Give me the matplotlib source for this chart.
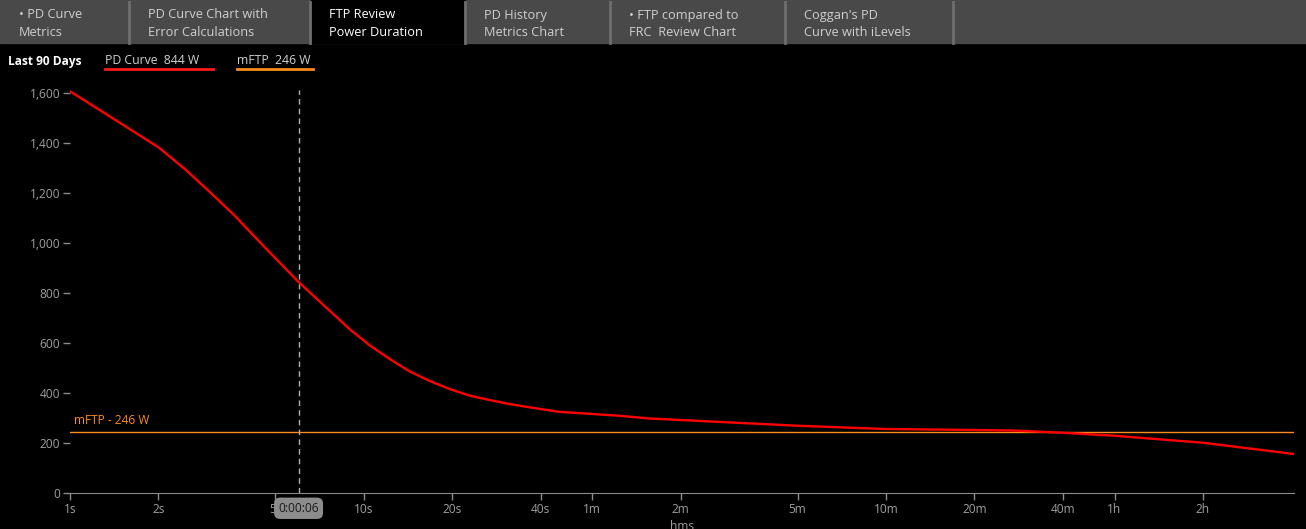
import matplotlib
matplotlib.use("Agg")
import matplotlib.pyplot as plt
from matplotlib.patches import Rectangle

plt.rcParams["font.family"] = ["Open Sans", "DejaVu Sans"]

# power duration curve (seconds, watts)
durations = [1, 1.41, 2, 2.46, 3, 3.64, 4.55, 6, 7.66, 8.96, 10.5, 12.3, 14.3, 16.7, 19.6,
             23.0, 26.8, 31.3, 36.6, 46, 74, 94, 120, 300, 600, 1200, 1625, 2400, 3600,
             7200, 14700]
power = [1607, 1496, 1383, 1296, 1203, 1109, 989, 844, 729, 655, 590, 535, 487, 449, 416,
         389, 372, 356, 343, 325, 309, 298, 292, 269, 256, 252, 250, 241, 229,
         201, 156]

mftp = 246
cursor_time = 6
cursor_label = "0:00:06"

tick_secs = [1, 2, 5, 10, 20, 40, 60, 120, 300, 600, 1200, 2400, 3600, 7200]
tick_labels = ["1s", "2s", "5s", "10s", "20s", "40s", "1m", "2m", "5m", "10m",
               "20m", "40m", "1h", "2h"]
y_ticks = [0, 200, 400, 600, 800, 1000, 1200, 1400, 1600]

tabs = [("\u2022 PD Curve", "Metrics"),
        ("PD Curve Chart with", "Error Calculations"),
        ("FTP Review", "Power Duration"),
        ("PD History", "Metrics Chart"),
        ("\u2022 FTP compared to", "FRC  Review Chart"),
        ("Coggan's PD", "Curve with iLevels")]
tab_edges = [0, 129, 310, 465, 610, 785, 953]
active_tab = 2

stats = ["MMP 20m - 230 W", "95% of 20m MMP - 219 W", "MMP 60m - 196 W", "60m NP - 205 W"]

W, H = 1306, 529
fig = plt.figure(figsize=(W / 100, H / 100), dpi=100, facecolor="black")

# background layer in pixel coords for the tab strip and header
bg = fig.add_axes([0, 0, 1, 1])
bg.set_xlim(0, W)
bg.set_ylim(H, 0)
bg.axis("off")
bg.add_patch(Rectangle((0, 0), W, 43, color="#494949", zorder=1))
for i, (l1, l2) in enumerate(tabs):
    x0, x1 = tab_edges[i], tab_edges[i + 1]
    col = "#cfcfcf"
    if i == active_tab:
        bg.add_patch(Rectangle((x0 + 1, 0), x1 - x0 - 1, 43, color="black", zorder=2))
        col = "white"
    bg.text(x0 + 19, 15, l1, color=col, fontsize=9.2, va="center", ha="left", zorder=3)
    bg.text(x0 + 19, 32, l2, color=col, fontsize=9.2, va="center", ha="left", zorder=3)
for x in tab_edges[1:]:
    bg.plot([x, x], [2, 43], color="#6e6e6e", lw=2, zorder=2)

bg.text(8, 61, "Last 90 Days", color="white", fontsize=8.6, fontweight="bold", va="center")
bg.text(105, 61, "PD Curve  844 W", color="#d0d0d0", fontsize=8.8, va="center")
bg.plot([105, 213], [68.5, 68.5], color="#ff1a1a", lw=2)
bg.text(237, 61, "mFTP  246 W", color="#d0d0d0", fontsize=8.8, va="center")
bg.plot([237, 313], [68.5, 68.5], color="#ff8c1a", lw=2)

for i, s in enumerate(stats):
    bg.text(1292, 104 + 17 * i, s, color="#a6a6a6", fontsize=8.6, ha="right", va="center")

# main chart
ax = fig.add_axes([70 / W, 36 / H, (1294 - 70) / W, (493 - 90) / H])
ax.set_facecolor("black")
ax.plot(durations, power, color="#ff0000", lw=1.7, zorder=3, solid_joinstyle="round")
ax.axhline(mftp, color="#ff8c1a", lw=1, zorder=2)
ax.axvline(cursor_time, color="#b0b0b0", lw=1, ls=(0, (4, 3)), zorder=2)
ax.text(1.03, mftp + 17, f"mFTP - {mftp} W", color="#ff8c1a", fontsize=8.6, va="bottom", ha="left")

ax.set_xscale("log")
ax.set_xlim(1, 14700)
ax.set_ylim(0, 1612)
ax.set_xticks(tick_secs)
ax.set_xticklabels(tick_labels)
ax.xaxis.set_minor_locator(matplotlib.ticker.NullLocator())
ax.set_yticks(y_ticks)
ax.set_yticklabels([f"{v:,}" for v in y_ticks])

for side in ["top", "right", "left"]:
    ax.spines[side].set_visible(False)
ax.spines["bottom"].set_color("#8a8a8a")
ax.tick_params(axis="x", colors="#8a8a8a", labelcolor="#a0a0a0", length=5, width=1,
               labelsize=8.6, pad=2)
ax.tick_params(axis="y", colors="#8a8a8a", labelcolor="#a0a0a0", length=5, width=1,
               labelsize=8.6, pad=2)

ax.set_xlabel("hms", color="#a0a0a0", fontsize=8.6, labelpad=3)

# cursor time box on the x axis
ax.annotate(cursor_label, xy=(cursor_time, 0), xycoords=("data", "axes fraction"),
            xytext=(0, -11), textcoords="offset points", ha="center", va="center",
            fontsize=8.6, color="#1a1a1a", zorder=10, annotation_clip=False,
            bbox=dict(boxstyle="round,pad=0.35,rounding_size=0.5", fc="#8c8c8c", ec="none"))

fig.savefig("out.png", dpi=100, facecolor="black")
